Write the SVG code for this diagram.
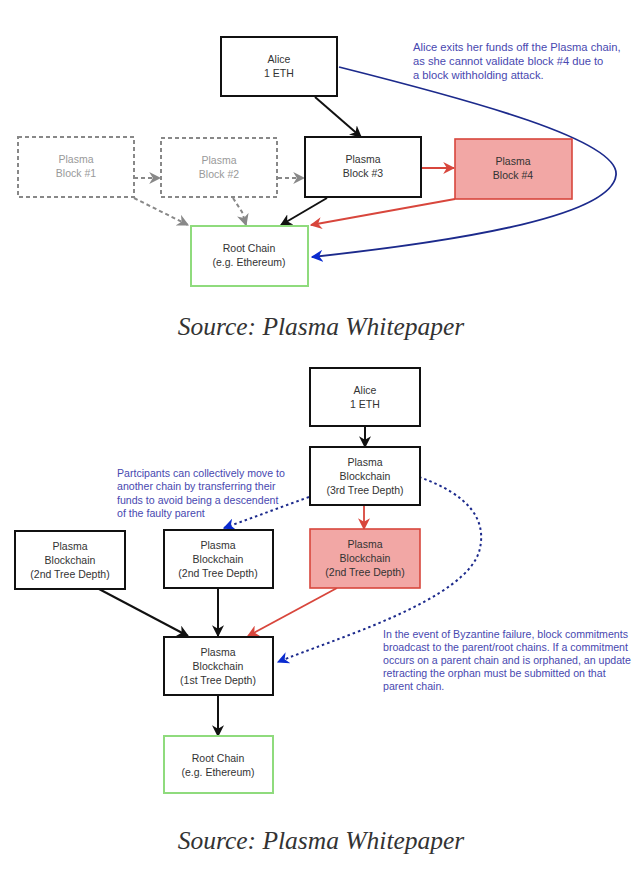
<svg xmlns="http://www.w3.org/2000/svg" width="640" height="880" viewBox="0 0 640 880">
<style>
  .box{fill:#fff;stroke:#111;stroke-width:2}
  .ghost{fill:#fff;stroke:#888;stroke-width:2;stroke-dasharray:4,3}
  .bad{fill:#f2a7a5;stroke:#d8463c;stroke-width:1.6}
  .root{fill:#fff;stroke:#8fdb7d;stroke-width:2}
  .t{font-family:"Liberation Sans",Arial,sans-serif;font-size:10.5px;fill:#333;text-anchor:middle}
  .tg{font-family:"Liberation Sans",Arial,sans-serif;font-size:10.5px;fill:#999;text-anchor:middle}
  .note{font-family:"Liberation Sans",Arial,sans-serif;font-size:10.6px;fill:#4848b0}
  .note1{font-family:"Liberation Sans",Arial,sans-serif;font-size:11.2px;fill:#4848b0}
  .cap{font-family:"Liberation Serif","Noto Serif",serif;font-style:italic;font-size:25.5px;fill:#333;text-anchor:middle}
  .k{fill:none;stroke:#111;stroke-width:2}
  .g{fill:none;stroke:#888;stroke-width:2;stroke-dasharray:4,3}
  .r{fill:none;stroke:#d8463c;stroke-width:1.8}
  .b{fill:none;stroke:#1c2a8c;stroke-width:1.8}
  .bd{fill:none;stroke:#1c2a8c;stroke-width:2;stroke-dasharray:2.5,3}
</style>
<defs>
  <marker id="ak" viewBox="0 0 10 10" refX="9" refY="5" markerWidth="12" markerHeight="12" markerUnits="userSpaceOnUse" orient="auto"><path d="M0,0 L10,5 L0,10 L3,5 z" fill="#111"/></marker>
  <marker id="ag" viewBox="0 0 10 10" refX="9" refY="5" markerWidth="12" markerHeight="12" markerUnits="userSpaceOnUse" orient="auto"><path d="M0,0 L10,5 L0,10 L3,5 z" fill="#888"/></marker>
  <marker id="ar" viewBox="0 0 10 10" refX="9" refY="5" markerWidth="12" markerHeight="12" markerUnits="userSpaceOnUse" orient="auto"><path d="M0,0 L10,5 L0,10 L3,5 z" fill="#d8463c"/></marker>
  <marker id="ab" viewBox="0 0 10 10" refX="9" refY="5" markerWidth="12" markerHeight="12" markerUnits="userSpaceOnUse" orient="auto"><path d="M0,0 L10,5 L0,10 L3,5 z" fill="#0a2bd0"/></marker>
</defs>
<rect width="640" height="880" fill="#fff"/>

<g id="connectors">
  <!-- top diagram -->
  <path class="k" d="M315,97 L361,137" marker-end="url(#ak)"/>
  <path class="g" d="M134,178 L160,178" marker-end="url(#ag)"/>
  <path class="g" d="M278,178 L304,178" marker-end="url(#ag)"/>
  <path class="g" d="M134,198 L188,225" marker-end="url(#ag)"/>
  <path class="g" d="M233,198 L242,212 L246,225" marker-end="url(#ag)"/>
  <path class="k" d="M327,198 L281,225" marker-end="url(#ak)"/>
  <path class="r" d="M421,168 L454,168" marker-end="url(#ar)"/>
  <path class="r" d="M455,199 L311,225" marker-end="url(#ar)"/>
  <path class="b" d="M339,67 C470,100 620,140 616,175 C612,215 470,240 312,257" marker-end="url(#ab)"/>
  <!-- bottom diagram -->
  <path class="k" d="M365,427 L365,447" marker-end="url(#ak)"/>
  <path class="r" d="M364,505 L364,529" marker-end="url(#ar)"/>
  <path class="bd" d="M309,497 L224,528" marker-end="url(#ab)"/>
  <path class="bd" d="M419,477 C470,495 486,520 480,548 C470,600 330,640 278,662" marker-end="url(#ab)"/>
  <path class="k" d="M99,589 L188,636" marker-end="url(#ak)"/>
  <path class="k" d="M218,588 L218,636" marker-end="url(#ak)"/>
  <path class="r" d="M337,588 L248,636" marker-end="url(#ar)"/>
  <path class="k" d="M218,695 L218,736" marker-end="url(#ak)"/>
</g>

<g id="alice1"><rect class="box" x="221" y="37" width="116" height="59"/><text class="t" x="279" y="63">Alice</text><text class="t" x="279" y="77">1 ETH</text></g>
<g id="block1"><rect class="ghost" x="18" y="137" width="116" height="60"/><text class="tg" x="76" y="163">Plasma</text><text class="tg" x="76" y="177">Block #1</text></g>
<g id="block2"><rect class="ghost" x="161" y="138" width="116" height="59"/><text class="tg" x="219" y="164">Plasma</text><text class="tg" x="219" y="178">Block #2</text></g>
<g id="block3"><rect class="box" x="305" y="137" width="116" height="60"/><text class="t" x="363" y="163">Plasma</text><text class="t" x="363" y="177">Block #3</text></g>
<g id="block4"><rect class="bad" x="455" y="139" width="117" height="60"/><text class="t" x="513" y="165">Plasma</text><text class="t" x="513" y="179">Block #4</text></g>
<g id="root1"><rect class="root" x="191" y="226" width="117" height="60"/><text class="t" x="249" y="252">Root Chain</text><text class="t" x="249" y="266">(e.g. Ethereum)</text></g>
<g id="note1"><text class="note1" x="413" y="51">Alice exits her funds off the Plasma chain,</text><text class="note1" x="413" y="65">as she cannot validate block #4 due to</text><text class="note1" x="413" y="79">a block withholding attack.</text></g>
<text class="cap" x="321" y="335">Source: Plasma Whitepaper</text>

<g id="alice2"><rect class="box" x="310" y="368" width="110" height="58"/><text class="t" x="365" y="394">Alice</text><text class="t" x="365" y="408">1 ETH</text></g>
<g id="depth3"><rect class="box" x="310" y="447" width="110" height="58"/><text class="t" x="365" y="466">Plasma</text><text class="t" x="365" y="480">Blockchain</text><text class="t" x="365" y="494">(3rd Tree Depth)</text></g>
<g id="depth2a"><rect class="box" x="15" y="531" width="110" height="58"/><text class="t" x="70" y="550">Plasma</text><text class="t" x="70" y="564">Blockchain</text><text class="t" x="70" y="578">(2nd Tree Depth)</text></g>
<g id="depth2b"><rect class="box" x="164" y="530" width="109" height="58"/><text class="t" x="218" y="549">Plasma</text><text class="t" x="218" y="563">Blockchain</text><text class="t" x="218" y="577">(2nd Tree Depth)</text></g>
<g id="depth2c"><rect class="bad" x="310" y="529" width="110" height="59"/><text class="t" x="365" y="548">Plasma</text><text class="t" x="365" y="562">Blockchain</text><text class="t" x="365" y="576">(2nd Tree Depth)</text></g>
<g id="depth1"><rect class="box" x="164" y="637" width="109" height="58"/><text class="t" x="218" y="656">Plasma</text><text class="t" x="218" y="670">Blockchain</text><text class="t" x="218" y="684">(1st Tree Depth)</text></g>
<g id="root2"><rect class="root" x="164" y="736" width="109" height="57"/><text class="t" x="218" y="762">Root Chain</text><text class="t" x="218" y="776">(e.g. Ethereum)</text></g>
<g id="note2"><text class="note" x="117" y="477">Partcipants can collectively move to</text><text class="note" x="117" y="490">another chain by transferring their</text><text class="note" x="117" y="504">funds to avoid being a descendent</text><text class="note" x="117" y="517">of the faulty parent</text></g>
<g id="note3"><text class="note" x="383" y="638">In the event of Byzantine failure, block commitments</text><text class="note" x="383" y="651">broadcast to the parent/root chains. If a commitment</text><text class="note" x="383" y="664">occurs on a parent chain and is orphaned, an update</text><text class="note" x="383" y="677">retracting the orphan must be submitted on that</text><text class="note" x="383" y="690">parent chain.</text></g>
<text class="cap" x="321" y="849">Source: Plasma Whitepaper</text>
</svg>
